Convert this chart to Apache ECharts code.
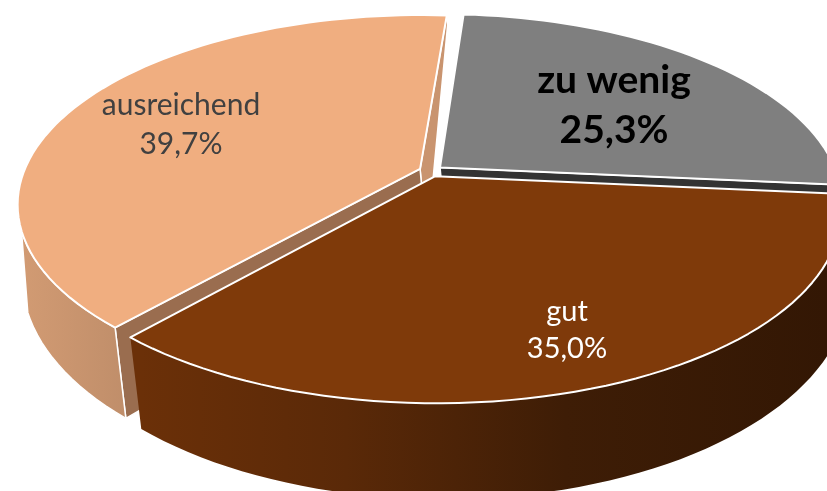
<!DOCTYPE html>
<html>
<head>
<meta charset="utf-8">
<style>html,body{margin:0;padding:0;background:#fff;overflow:hidden}#main{width:827px;height:491px}</style>
<script src="https://cdn.jsdelivr.net/npm/echarts@6/dist/echarts.min.js"></script>
</head>
<body>
<div id="main"></div>
<script>
var categories = ['zu wenig', 'gut', 'ausreichend'];
var shares = [25.3, 35.0, 39.7];
var percentLabels = ['25,3%', '35,0%', '39,7%'];

// look of each slice, same order as categories
var topColors = ['#7f7f7f', '#7f3a0a', '#f0ae80'];
var labelColors = ['#000000', '#ffffff', '#404040'];
var labelWeights = ['bold', 'normal', 'normal'];
var labelSizes = [39, 29, 30];
var labelCenters = [[614, 80, 50], [567, 312, 37], [181, 105, 39]];
var drawOrder = [1, 3, 2];

var START_ANGLE = 4.3;    // degrees, clockwise from the top
var EXPLODE = 0.03;
var TOP_DISC = {cx: 431, cy: 171, a: 396, b: 183, p: 0.185};
var BOTTOM_DISC = {cx: 438, cy: 246, a: 400, b: 206, p: 0.159};

function rad(d) { return d * Math.PI / 180; }

// perspective of a unit disc, y goes to the viewer
function project(disc, x, y) {
    var w = 1 - disc.p * y;
    return [disc.cx + disc.a * x / w, disc.cy + disc.b * y / w];
}
function pointAt(disc, slice, angle, r) {
    var x = slice.ox + r * Math.sin(rad(angle));
    var y = slice.oy - r * Math.cos(rad(angle));
    return project(disc, x, y);
}
function arc(disc, slice, from, to) {
    var pts = [];
    var n = Math.max(2, Math.ceil(Math.abs(to - from) / 2));
    for (var i = 0; i <= n; i++) {
        pts.push(pointAt(disc, slice, from + (to - from) * i / n, 1));
    }
    return pts;
}
function band(slice, from, to) {
    return arc(TOP_DISC, slice, from, to).concat(arc(BOTTOM_DISC, slice, to, from));
}
function wall(slice, angle) {
    return [
        pointAt(TOP_DISC, slice, angle, 0),
        pointAt(TOP_DISC, slice, angle, 1),
        pointAt(BOTTOM_DISC, slice, angle, 1),
        pointAt(BOTTOM_DISC, slice, angle, 0)
    ];
}
// back wall closes nearly to a point at the rim
function backWall(slice, angle) {
    var rim = pointAt(TOP_DISC, slice, angle, 1);
    return [
        pointAt(TOP_DISC, slice, angle, 0),
        rim,
        [rim[0] + 1, rim[1] + 8],
        pointAt(BOTTOM_DISC, slice, angle, 0)
    ];
}
function poly(points, fill, z2, lineWidth) {
    return {
        type: 'polygon',
        z2: z2,
        shape: {points: points},
        style: {fill: fill, stroke: '#ffffff', lineWidth: lineWidth === undefined ? 1.5 : lineWidth, lineJoin: 'round'}
    };
}
function hGrad(x0, x1, stops) {
    return new echarts.graphic.LinearGradient(x0, 0, x1, 0, stops, true);
}

function sliceRange(index) {
    var total = shares.reduce(function (a, b) { return a + b; }, 0);
    var from = START_ANGLE;
    for (var i = 0; i < index; i++) from += shares[i] / total * 360;
    var to = from + shares[index] / total * 360;
    var mid = (from + to) / 2;
    return {
        from: from, to: to,
        ox: EXPLODE * Math.sin(rad(mid)),
        oy: -EXPLODE * Math.cos(rad(mid))
    };
}

function renderSlice(params, api) {
    var i = params.dataIndex;
    var s = sliceRange(i);
    var base = drawOrder[i] * 10;
    var children = [];

    if (i === 0) {
        children.push(poly(wall(s, s.to), '#333333', base));
    } else if (i === 1) {
        children.push(poly(band(s, s.from, s.to), hGrad(140, 827, [
            {offset: 0, color: '#6b3008'},
            {offset: 0.3, color: '#5a2908'},
            {offset: 0.62, color: '#3e1d06'},
            {offset: 1, color: '#331704'}
        ]), base, 0));
    } else {
        children.push(poly(backWall(s, s.to), '#c9946f', base));
        children.push(poly(wall(s, s.from), '#9a6d4f', base + 1));
        children.push(poly(band(s, s.from, s.from + 30), hGrad(20, 125, [
            {offset: 0, color: '#d29b73'},
            {offset: 1, color: '#c08e6a'}
        ]), base + 2));
    }

    var top = [pointAt(TOP_DISC, s, s.from, 0)].concat(arc(TOP_DISC, s, s.from, s.to));
    children.push(poly(top, topColors[i], base + 3, 2));

    var c = labelCenters[i];
    [categories[i], percentLabels[i]].forEach(function (t, line) {
        children.push({
            type: 'text',
            z2: 100,
            style: {
                x: c[0], y: c[1] + line * c[2],
                text: t,
                fill: labelColors[i],
                font: labelWeights[i] + ' ' + labelSizes[i] + 'px Lato, "Open Sans", sans-serif',
                align: 'center',
                verticalAlign: 'middle'
            }
        });
    });
    return {type: 'group', children: children};
}

var chart = echarts.init(document.getElementById('main'), null, {renderer: 'canvas'});
chart.setOption({
    backgroundColor: '#ffffff',
    animation: false,
    series: [{
        type: 'custom',
        coordinateSystem: 'none',
        renderItem: renderSlice,
        data: categories.map(function (name, i) {
            return {name: name, value: [shares[i]]};
        })
    }]
});
</script>
</body>
</html>
